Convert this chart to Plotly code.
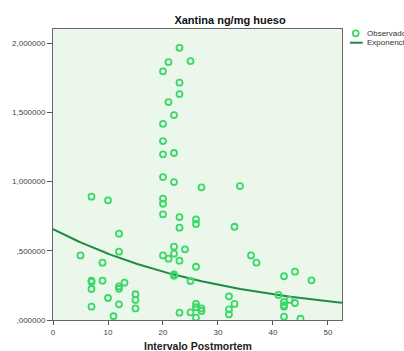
import numpy as np
import plotly.graph_objects as go

# Observed points (Intervalo Postmortem, Xantina ng/mg hueso)
x_obs = [23, 21, 25, 20, 23, 23, 21, 22,
         20, 20, 20, 22, 20, 22, 27, 34,
         7, 10, 20, 20, 20, 23, 26, 26, 23, 33, 12,
         22, 22, 24, 20, 21, 23, 26, 22, 22, 25,
         12, 5, 9, 7, 7, 7, 7, 9, 12, 12, 13, 10, 12, 11, 15, 15, 15,
         23, 25, 26, 26, 26, 27, 27, 32, 32, 32, 33,
         36, 37, 41, 42, 42, 42, 42, 42, 43, 44, 44, 45, 47]
y_obs = [1.967, 1.864, 1.871, 1.797, 1.715, 1.633, 1.575, 1.481,
         1.418, 1.293, 1.197, 1.207, 1.033, 0.997, 0.959, 0.968,
         0.891, 0.865, 0.877, 0.840, 0.764, 0.744, 0.727, 0.694, 0.667, 0.674, 0.624,
         0.530, 0.479, 0.511, 0.467, 0.443, 0.429, 0.385, 0.330, 0.320, 0.282,
         0.494, 0.467, 0.414, 0.284, 0.275, 0.224, 0.096, 0.284, 0.243, 0.226, 0.270, 0.159, 0.113, 0.027, 0.186, 0.145, 0.084,
         0.053, 0.055, 0.116, 0.092, 0.017, 0.084, 0.065, 0.171, 0.077, 0.041, 0.116,
         0.467, 0.414, 0.181, 0.316, 0.130, 0.106, 0.096, 0.024, 0.145, 0.349, 0.123, 0.009, 0.287]

# Exponential fit parameters: y = A * exp(B * x)
fit_A = 0.657
fit_B = -0.0316

x_ticks = [0, 10, 20, 30, 40, 50]
y_ticks = [0, 0.5, 1.0, 1.5, 2.0]
y_ticktext = [",000000", ",500000", "1,000000", "1,500000", "2,000000"]

title_text = "Xantina ng/mg hueso"
xtitle_text = "Intervalo Postmortem"
legend_labels = ["Observado", "Exponencial"]

X_MAX = 52.55
Y_MAX = 2.103

pt_color = "rgb(60,215,105)"
line_color = "rgb(30,140,70)"
font_fam = "Liberation Sans, Arial, sans-serif"

xs = np.linspace(0, X_MAX, 200)
ys = fit_A * np.exp(fit_B * xs)

fig = go.Figure()
fig.add_trace(go.Scatter(x=xs, y=ys, mode="lines",
                         line=dict(color=line_color, width=2),
                         name=legend_labels[1], hoverinfo="skip"))
fig.add_trace(go.Scatter(x=x_obs, y=y_obs, mode="markers",
                         marker=dict(symbol="circle-open", size=6, color=pt_color,
                                     line=dict(width=1.8, color=pt_color)),
                         name=legend_labels[0]))

L, R, T, B = 48, 62, 29, 31
W, H = 404, 351
pw, ph = W - L - R, H - T - B

def px_x(p):
    return (p - L) / pw

def px_y(p):
    return (H - B - p) / ph

fig.update_layout(
    width=W, height=H,
    margin=dict(l=L, r=R, t=T, b=B),
    paper_bgcolor="white",
    plot_bgcolor="rgb(234,247,234)",
    showlegend=False,
    font=dict(family=font_fam, size=8, color="#333"),
    title=dict(text="<b>" + title_text + "</b>", xref="container", yref="container",
               x=230 / W, y=1 - 20 / H, xanchor="center", yanchor="middle",
               font=dict(family=font_fam, size=11, color="#111")),
    xaxis=dict(range=[0, X_MAX], tickvals=x_ticks, ticks="outside", ticklen=4,
               tickcolor="#555", showline=True, mirror=True, linecolor="#666",
               linewidth=1, showgrid=False, zeroline=False,
               tickfont=dict(size=8, color="#444")),
    yaxis=dict(range=[0, Y_MAX], tickvals=y_ticks, ticktext=y_ticktext,
               ticks="outside", ticklen=5, tickcolor="#555", showline=True,
               mirror=True, linecolor="#666", linewidth=1, showgrid=False,
               zeroline=False, tickfont=dict(size=8, color="#444")),
    shapes=[
        dict(type="circle", xref="paper", yref="paper",
             x0=px_x(353), x1=px_x(359), y0=px_y(36.3), y1=px_y(30.3),
             line=dict(color=pt_color, width=1.8)),
        dict(type="line", xref="paper", yref="paper",
             x0=px_x(350), x1=px_x(363), y0=px_y(42.7), y1=px_y(42.7),
             line=dict(color=line_color, width=2)),
    ],
    annotations=[
        dict(text=legend_labels[0], xref="paper", yref="paper", x=px_x(365), y=px_y(33.3),
             xanchor="left", yanchor="middle", showarrow=False,
             font=dict(size=8, color="#333")),
        dict(text=legend_labels[1], xref="paper", yref="paper", x=px_x(365), y=px_y(42.7),
             xanchor="left", yanchor="middle", showarrow=False,
             font=dict(size=8, color="#333")),
        dict(text="<b>" + xtitle_text + "</b>", xref="paper", yref="paper", x=0.5,
             y=px_y(345.7), xanchor="center", yanchor="middle", showarrow=False,
             font=dict(size=10.5, color="#222")),
    ],
)

fig.write_html("out.html")
